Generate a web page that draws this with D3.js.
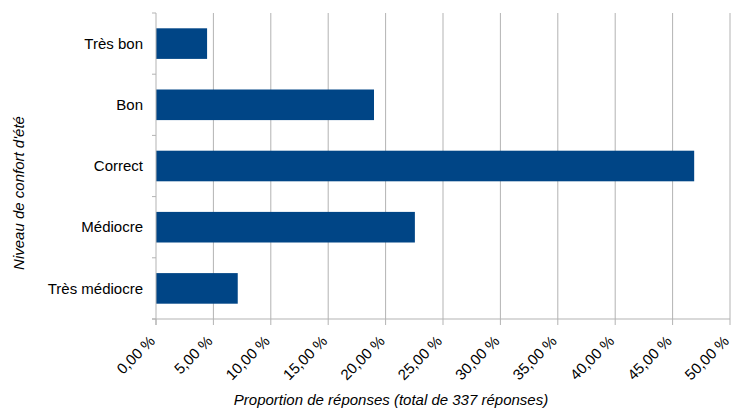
<!DOCTYPE html>
<html>
<head>
<meta charset="utf-8">
<script src="https://cdn.jsdelivr.net/npm/d3@7"></script>
<style>
body { margin: 0; background: #fff; }
text { font-family: "Liberation Sans", Arial, sans-serif; fill: #000; }
</style>
</head>
<body>
<div id="chart"></div>
<script>
var svgWidth = 732;
var svgHeight = 412;

// niveaux de confort, du haut vers le bas
var categories = ["Très bon", "Bon", "Correct", "Médiocre", "Très médiocre"];
// proportion de réponses en %
var values = [4.45, 18.99, 46.88, 22.55, 7.12];
var xTicks = [0, 5, 10, 15, 20, 25, 30, 35, 40, 45, 50];

var margin = { top: 13, right: 2, bottom: 93, left: 156 };
var width = svgWidth - margin.left - margin.right;
var height = svgHeight - margin.top - margin.bottom;

var svg = d3.select("#chart")
    .append("svg")
    .attr("width", svgWidth)
    .attr("height", svgHeight);

var chartGroup = svg.append("g")
    .attr("transform", `translate(${margin.left}, ${margin.top})`);

var x = d3.scaleLinear().domain([0, 50]).range([0, 574]);
var y = d3.scaleBand().domain(categories).range([0, height])
    .paddingInner(0.5).paddingOuter(0.25);

// grille verticale
chartGroup.selectAll(".grid")
    .data(xTicks.slice(1))
    .enter()
    .append("line")
    .attr("x1", d => x(d))
    .attr("x2", d => x(d))
    .attr("y1", 0)
    .attr("y2", height)
    .attr("stroke", "#b3b3b3")
    .attr("stroke-width", 1);

chartGroup.selectAll(".bar")
    .data(values)
    .enter()
    .append("rect")
    .attr("x", 0)
    .attr("y", (d, i) => y(categories[i]))
    .attr("width", d => x(d))
    .attr("height", y.bandwidth())
    .attr("fill", "#004586");

// axe gauche
chartGroup.append("line")
    .attr("x1", 0).attr("x2", 0)
    .attr("y1", 0).attr("y2", height + 6)
    .attr("stroke", "#b3b3b3");

var bounds = d3.range(categories.length + 1).map(i => i * height / categories.length);
chartGroup.selectAll(".ytick")
    .data(bounds)
    .enter()
    .append("line")
    .attr("x1", -4).attr("x2", 0)
    .attr("y1", d => d).attr("y2", d => d)
    .attr("stroke", "#b3b3b3");

chartGroup.selectAll(".ylab")
    .data(categories)
    .enter()
    .append("text")
    .attr("x", -13)
    .attr("y", d => y(d) + y.bandwidth() / 2)
    .attr("dy", "0.35em")
    .attr("text-anchor", "end")
    .attr("font-size", 15)
    .text(d => d);

// axe bas
chartGroup.append("line")
    .attr("x1", -4).attr("x2", x(50))
    .attr("y1", height).attr("y2", height)
    .attr("stroke", "#b3b3b3");

chartGroup.selectAll(".xtick")
    .data(xTicks)
    .enter()
    .append("line")
    .attr("x1", d => x(d)).attr("x2", d => x(d))
    .attr("y1", height).attr("y2", height + 6)
    .attr("stroke", "#b3b3b3");

chartGroup.selectAll(".xlab")
    .data(xTicks)
    .enter()
    .append("text")
    .attr("transform", d => `translate(${x(d)}, ${height + 23}) rotate(-45)`)
    .attr("text-anchor", "end")
    .attr("font-size", 15)
    .text(d => d.toFixed(2).replace(".", ",") + " %");

svg.append("text")
    .attr("x", 391)
    .attr("y", 405)
    .attr("text-anchor", "middle")
    .attr("font-size", 15)
    .attr("font-style", "italic")
    .text("Proportion de réponses (total de 337 réponses)");

svg.append("text")
    .attr("transform", "translate(24, 193) rotate(-90)")
    .attr("text-anchor", "middle")
    .attr("font-size", 15)
    .attr("font-style", "italic")
    .text("Niveau de confort d'été");
</script>
</body>
</html>
